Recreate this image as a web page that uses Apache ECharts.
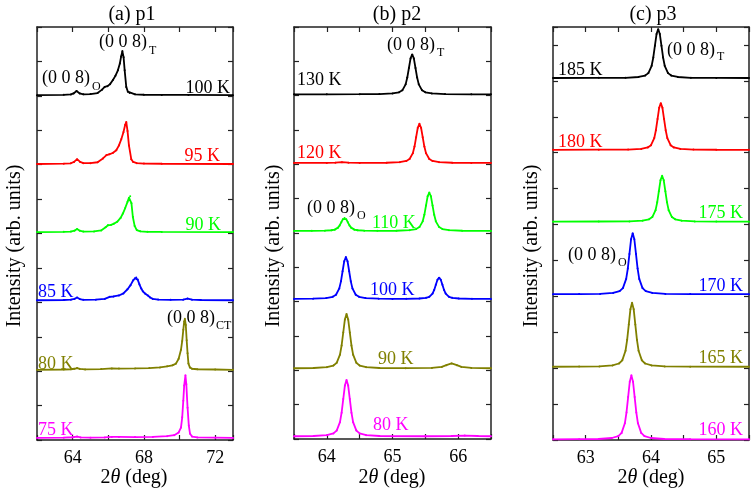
<!DOCTYPE html>
<html><head><meta charset="utf-8">
<script src="https://cdn.jsdelivr.net/npm/echarts@6/dist/echarts.min.js"></script>
<style>html,body{margin:0;padding:0;background:#fff}#c{width:755px;height:495px}</style>
</head><body><div id="c"></div>
<script>
// ---------- data ----------
const panelTitles = ['(a) p1', '(b) p2', '(c) p3'];
const tempsA = ['100 K', '95 K', '90 K', '85 K', '80 K', '75 K'];
const tempsB = ['130 K', '120 K', '110 K', '100 K', '90 K', '80 K'];
const tempsC = ['185 K', '180 K', '175 K', '170 K', '165 K', '160 K'];
const offsetsA = [5.01, 4.01, 3.02, 2.03, 1.02, 0.03];
const offsetsB = [5.02, 4.02, 3.03, 2.04, 1.03, 0.04];
const offsetsC = [5.04, 4.04, 3.04, 2.03, 1.02, 0.01];
const xTicksA = [64, 68, 72];
const xTicksB = [64, 65, 66];
const xTicksC = [63, 64, 65];

// panel (a) p1
const a100 = [[62,0],[63.5,0.005],[63.9,0.01],[64.05,0.025],[64.22,0.06],[64.4,0.025],[64.6,0.012],[65.0,0.015],[65.4,0.03],[65.65,0.08],[65.8,0.12],[65.95,0.13],[66.1,0.16],[66.26,0.22],[66.4,0.28],[66.54,0.36],[66.65,0.46],[66.72,0.56],[66.79,0.64],[66.86,0.55],[66.92,0.36],[67.01,0.12],[67.1,0.05],[67.2,0.03],[67.5,0.012],[68,0.006],[69,0.003],[70.5,0.003],[73,0]];
const a95 = [[62,0],[63.5,0.005],[63.9,0.01],[64.08,0.03],[64.25,0.07],[64.42,0.03],[64.6,0.012],[65.0,0.012],[65.4,0.025],[65.7,0.08],[65.9,0.13],[66.05,0.14],[66.25,0.16],[66.45,0.2],[66.6,0.27],[66.73,0.36],[66.85,0.46],[66.95,0.57],[67.01,0.61],[67.08,0.48],[67.16,0.27],[67.29,0.07],[67.4,0.03],[67.6,0.012],[68,0.006],[69,0.003],[73,0]];
const a90 = [[62,0],[63.5,0.004],[63.9,0.008],[64.1,0.02],[64.25,0.045],[64.4,0.02],[64.6,0.008],[65.2,0.01],[65.6,0.025],[65.85,0.07],[65.98,0.1],[66.15,0.105],[66.3,0.12],[66.5,0.15],[66.7,0.21],[66.82,0.27],[66.95,0.35],[67.08,0.44],[67.16,0.5],[67.23,0.52],[67.3,0.42],[67.38,0.22],[67.48,0.09],[67.6,0.03],[67.8,0.012],[68.2,0.005],[69,0.003],[73,0]];
const a85 = [[62,0],[63.5,0.004],[63.9,0.008],[64.1,0.02],[64.25,0.04],[64.4,0.018],[64.6,0.006],[65.3,0.008],[65.8,0.02],[66.08,0.05],[66.3,0.055],[66.6,0.07],[66.85,0.1],[67.08,0.16],[67.25,0.22],[67.4,0.29],[67.5,0.32],[67.57,0.33],[67.65,0.3],[67.75,0.23],[67.85,0.17],[67.94,0.13],[68.08,0.095],[68.22,0.07],[68.35,0.04],[68.5,0.02],[68.8,0.01],[69.5,0.006],[70.2,0.008],[70.45,0.025],[70.7,0.008],[71.2,0.004],[73,0]];
const a80 = [[62,0],[63.5,0.004],[63.9,0.008],[64.1,0.015],[64.25,0.025],[64.4,0.012],[64.7,0.006],[65.6,0.01],[66.2,0.02],[66.6,0.018],[67.5,0.02],[68.3,0.025],[68.9,0.035],[69.3,0.05],[69.6,0.065],[69.8,0.09],[69.95,0.16],[70.08,0.29],[70.15,0.42],[70.21,0.58],[70.26,0.7],[70.3,0.74],[70.35,0.65],[70.4,0.43],[70.45,0.24],[70.5,0.09],[70.58,0.035],[70.7,0.015],[71,0.008],[72,0.004],[73,0]];
const a75 = [[62,0],[63.5,0.004],[64,0.01],[64.25,0.02],[64.45,0.008],[65,0.004],[65.8,0.008],[66.2,0.015],[66.6,0.014],[67.5,0.012],[68.5,0.015],[69.3,0.025],[69.7,0.04],[69.95,0.08],[70.08,0.15],[70.15,0.3],[70.21,0.54],[70.26,0.76],[70.33,0.91],[70.38,0.78],[70.45,0.44],[70.52,0.18],[70.59,0.06],[70.7,0.02],[71,0.008],[72,0.004],[73,0]];

// panel (b) p2
const b130 = [[63.5,0],[64.0,0],[64.5,0.001],[64.8,0.003],[65.0,0.012],[65.1,0.029],[65.15,0.058],[65.2,0.145],[65.225,0.244],[65.25,0.383],[65.275,0.522],[65.3,0.58],[65.325,0.522],[65.35,0.383],[65.375,0.244],[65.4,0.145],[65.45,0.058],[65.5,0.029],[65.6,0.012],[65.8,0.003],[66.2,0],[66.5,0]];
const b120 = [[63.5,0],[64.0,0],[64.13,0.004],[64.23,0.012],[64.33,0.004],[64.5,0],[64.91,0.003],[65.11,0.011],[65.21,0.029],[65.26,0.057],[65.31,0.143],[65.335,0.239],[65.36,0.376],[65.385,0.513],[65.41,0.57],[65.435,0.513],[65.46,0.376],[65.485,0.239],[65.51,0.143],[65.56,0.057],[65.61,0.029],[65.71,0.011],[65.91,0.003],[66.2,0],[66.5,0]];
const b110 = [[63.5,0],[63.77,0.001],[63.97,0.004],[64.07,0.01],[64.12,0.019],[64.17,0.048],[64.195,0.08],[64.22,0.125],[64.245,0.171],[64.27,0.19],[64.295,0.171],[64.32,0.125],[64.345,0.08],[64.37,0.048],[64.42,0.019],[64.47,0.01],[64.57,0.004],[64.77,0.001],[65.06,0.003],[65.26,0.011],[65.36,0.028],[65.41,0.056],[65.46,0.14],[65.485,0.235],[65.51,0.37],[65.535,0.504],[65.56,0.56],[65.585,0.504],[65.61,0.37],[65.635,0.235],[65.66,0.14],[65.71,0.056],[65.76,0.028],[65.86,0.011],[66.06,0.003],[66.5,0]];
const b100 = [[63.5,0],[63.79,0.003],[63.99,0.012],[64.09,0.031],[64.14,0.061],[64.19,0.153],[64.215,0.256],[64.24,0.403],[64.265,0.549],[64.29,0.61],[64.315,0.549],[64.34,0.403],[64.365,0.256],[64.39,0.153],[64.44,0.061],[64.49,0.031],[64.59,0.012],[64.79,0.003],[65.0,0],[65.21,0.002],[65.41,0.006],[65.51,0.016],[65.56,0.031],[65.61,0.078],[65.635,0.13],[65.66,0.205],[65.685,0.279],[65.71,0.31],[65.735,0.279],[65.76,0.205],[65.785,0.13],[65.81,0.078],[65.86,0.031],[65.91,0.016],[66.01,0.006],[66.21,0.002],[66.5,0]];
const b90 = [[63.5,0],[63.8,0.004],[64.0,0.016],[64.1,0.04],[64.15,0.079],[64.2,0.198],[64.225,0.332],[64.25,0.521],[64.275,0.711],[64.3,0.79],[64.325,0.711],[64.35,0.521],[64.375,0.332],[64.4,0.198],[64.45,0.079],[64.5,0.04],[64.6,0.016],[64.8,0.004],[65.2,0.001],[65.6,0.005],[65.75,0.02],[65.82,0.045],[65.9,0.07],[65.98,0.045],[66.05,0.02],[66.2,0.005],[66.5,0]];
const b80 = [[63.5,0],[63.8,0.004],[64.0,0.016],[64.1,0.041],[64.15,0.082],[64.2,0.205],[64.225,0.344],[64.25,0.541],[64.275,0.738],[64.3,0.82],[64.325,0.738],[64.35,0.541],[64.375,0.344],[64.4,0.205],[64.45,0.082],[64.5,0.041],[64.6,0.016],[64.8,0.004],[65.5,0],[65.9,0.004],[66.1,0.01],[66.3,0.004],[66.5,0]];

// panel (c) p3
const c185 = [[62.5,0],[63.2,0.002],[63.61,0.003],[63.81,0.014],[63.91,0.034],[63.96,0.068],[64.01,0.17],[64.035,0.286],[64.06,0.449],[64.085,0.612],[64.11,0.68],[64.135,0.612],[64.16,0.449],[64.185,0.286],[64.21,0.17],[64.26,0.068],[64.31,0.034],[64.41,0.014],[64.61,0.003],[65.0,0.001],[65.5,0]];
const c180 = [[62.5,0],[63.2,0.002],[63.65,0.003],[63.85,0.013],[63.95,0.033],[64.0,0.065],[64.05,0.163],[64.075,0.273],[64.1,0.429],[64.125,0.585],[64.15,0.65],[64.175,0.585],[64.2,0.429],[64.225,0.273],[64.25,0.163],[64.3,0.065],[64.35,0.033],[64.45,0.013],[64.65,0.003],[65.0,0.001],[65.5,0]];
const c175 = [[62.5,0],[63.2,0.002],[63.67,0.003],[63.87,0.013],[63.97,0.032],[64.02,0.064],[64.07,0.16],[64.095,0.269],[64.12,0.422],[64.145,0.576],[64.17,0.64],[64.195,0.576],[64.22,0.422],[64.245,0.269],[64.27,0.16],[64.32,0.064],[64.37,0.032],[64.47,0.013],[64.67,0.003],[65.0,0.001],[65.5,0]];
const c170 = [[62.5,0],[62.9,0.002],[63.22,0.004],[63.42,0.017],[63.52,0.043],[63.57,0.085],[63.62,0.213],[63.645,0.357],[63.67,0.561],[63.695,0.765],[63.72,0.85],[63.745,0.765],[63.77,0.561],[63.795,0.357],[63.82,0.213],[63.87,0.085],[63.92,0.043],[64.02,0.017],[64.22,0.004],[64.6,0.001],[65.5,0]];
const c165 = [[62.5,0],[62.9,0.002],[63.21,0.004],[63.41,0.018],[63.51,0.045],[63.56,0.089],[63.61,0.223],[63.635,0.374],[63.66,0.587],[63.685,0.801],[63.71,0.89],[63.735,0.801],[63.76,0.587],[63.785,0.374],[63.81,0.223],[63.86,0.089],[63.91,0.045],[64.01,0.018],[64.21,0.004],[64.6,0.001],[65.5,0]];
const c160 = [[62.5,0],[62.9,0.002],[63.2,0.004],[63.4,0.018],[63.5,0.045],[63.55,0.089],[63.6,0.223],[63.625,0.374],[63.65,0.587],[63.675,0.801],[63.7,0.89],[63.725,0.801],[63.75,0.587],[63.775,0.374],[63.8,0.223],[63.85,0.089],[63.9,0.045],[64.0,0.018],[64.2,0.004],[64.6,0.001],[65.5,0]];

const curvesA = [a100, a95, a90, a85, a80, a75];
const curvesB = [b130, b120, b110, b100, b90, b80];
const curvesC = [c185, c180, c175, c170, c165, c160];

// ---------- styling / layout ----------
const colors = ['#000000', '#ff0000', '#00ff00', '#0000ff', '#808000', '#ff00ff'];
const FONT = '"Liberation Serif", "DejaVu Serif", serif';
const AX = '#222';
const grids = [
  {left: 37, top: 27, width: 196, height: 413},
  {left: 294, top: 27, width: 197, height: 412},
  {left: 553, top: 27, width: 196, height: 413}
];
const xRanges = [[62, 73, 2, xTicksA], [63.5, 66.5, 0.5, xTicksB], [62.5, 65.5, 0.5, xTicksC]];
const yMax = [6, 6, 5.75];

const xAxes = [], yAxes = [], series = [];
grids.forEach((g, i) => {
  const [mn, mx, iv, lab] = xRanges[i];
  ['bottom', 'top'].forEach(pos => {
    xAxes.push({
      gridIndex: i, type: 'value', min: mn, max: mx, interval: iv, position: pos,
      axisLine: {show: true, onZero: false, lineStyle: {color: AX, width: 1.5}},
      axisTick: {show: true, inside: true, length: 5, lineStyle: {color: AX, width: 1.2}},
      axisLabel: {show: pos === 'bottom', margin: 9, color: '#000', fontFamily: FONT, fontSize: 18,
        formatter: v => (lab.indexOf(v) >= 0 ? String(v) : '')},
      splitLine: {show: false}
    });
  });
  ['left', 'right'].forEach(pos => {
    yAxes.push({
      gridIndex: i, type: 'value', min: 0, max: yMax[i], interval: 0.5, position: pos,
      axisLine: {show: true, onZero: false, lineStyle: {color: AX, width: 1.5}},
      axisTick: {show: true, inside: true, length: 5, lineStyle: {color: AX, width: 1.2}},
      axisLabel: {show: false}, splitLine: {show: false}
    });
  });
});

function addSeries(curves, offsets, gi) {
  curves.forEach((c, k) => {
    series.push({
      type: 'line', xAxisIndex: gi * 2, yAxisIndex: gi * 2,
      data: c.map(p => [p[0], p[1] + offsets[k]]),
      symbol: 'circle', symbolSize: 2, showSymbol: true,
      lineStyle: {color: colors[k], width: 1.8},
      itemStyle: {color: colors[k]},
      silent: true, z: 3
    });
  });
}
addSeries(curvesA, offsetsA, 0);
addSeries(curvesB, offsetsB, 1);
addSeries(curvesC, offsetsC, 2);

// ---------- text ----------
const gfx = [];
function txt(t, x, y, opt) {
  opt = opt || {};
  gfx.push({
    type: 'text', x: x, y: y, rotation: opt.rot || 0, z: 10,
    style: {
      text: t, fill: opt.color || '#000', fontFamily: FONT, fontSize: opt.size || 18,
      align: opt.align || 'left', textAlign: opt.align || 'left',
      verticalAlign: 'middle', textVerticalAlign: 'middle',
      rich: opt.rich
    }
  });
}
// titles
txt(panelTitles[0], 132, 15, {align: 'center', size: 20});
txt(panelTitles[1], 397, 15, {align: 'center', size: 20});
txt(panelTitles[2], 653, 15, {align: 'center', size: 20});
// y-axis titles
[15, 274, 532].forEach(x => txt('Intensity (arb. units)', x, 246, {align: 'center', size: 20, rot: Math.PI / 2}));
// x-axis titles
const xt = '{n|2}{i|θ}{n| (deg)}';
const xrich = {n: {fontFamily: FONT, fontSize: 20, color: '#000'}, i: {fontFamily: FONT, fontSize: 20, fontStyle: 'italic', color: '#000'}};
[134, 392, 651].forEach(x => txt(xt, x, 478, {align: 'center', rich: xrich}));

// peak labels
function peak(x, y, sub, sx, sy) {
  txt('(0 0 8)', x, y, {size: 18});
  txt(sub, sx, sy, {size: 12});
}
peak(99, 42, 'T', 149, 51);
peak(42, 78, 'O', 92, 87);
peak(167, 318, 'CT', 216, 326);
peak(387, 45, 'T', 437, 53);
peak(307, 208, 'O', 357, 216);
peak(667, 50, 'T', 717, 57);
peak(568, 255, 'O', 618, 263);

// temperature labels
const posA = [[230, 88, 'right'], [220, 156, 'right'], [221, 225, 'right'], [38, 292, 'left'], [38, 364, 'left'], [38, 430, 'left']];
const posB = [[297, 80, 'left'], [297, 153, 'left'], [372, 223, 'left'], [370, 290, 'left'], [378, 359, 'left'], [373, 425, 'left']];
const posC = [[558, 70, 'left'], [558, 142, 'left'], [743, 213, 'right'], [743, 286, 'right'], [743, 358, 'right'], [743, 430, 'right']];
[[tempsA, posA], [tempsB, posB], [tempsC, posC]].forEach(([ts, ps]) => {
  ts.forEach((t, k) => txt(t, ps[k][0], ps[k][1], {align: ps[k][2], color: colors[k]}));
});

const chart = echarts.init(document.getElementById('c'), null, {renderer: 'canvas'});
chart.setOption({
  animation: false,
  backgroundColor: '#fff',
  grid: grids.map(g => Object.assign({containLabel: false}, g)),
  xAxis: xAxes, yAxis: yAxes, series: series, graphic: gfx
});
</script></body></html>
